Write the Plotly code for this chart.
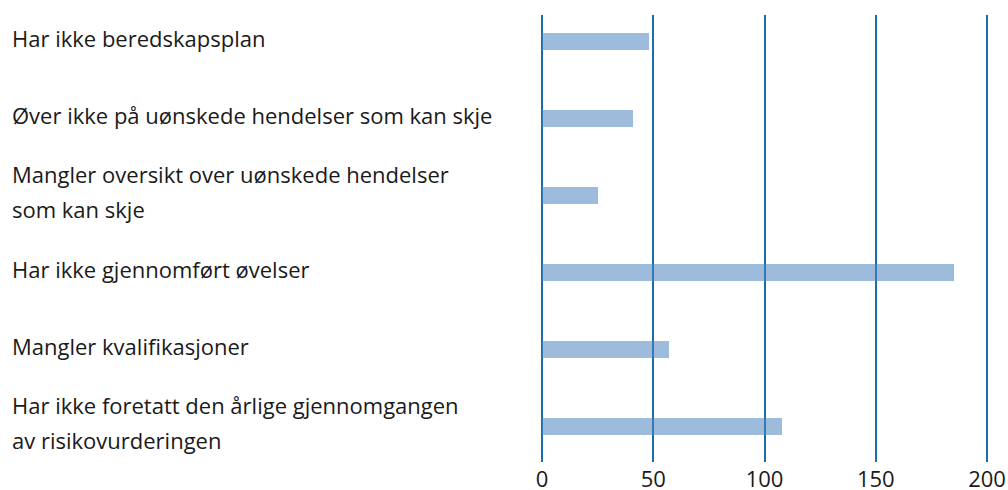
import plotly.graph_objects as go

categories = [
    "Har ikke beredskapsplan",
    "Øver ikke på uønskede hendelser som kan skje",
    "Mangler oversikt over uønskede hendelser<br>som kan skje",
    "Har ikke gjennomført øvelser",
    "Mangler kvalifikasjoner",
    "Har ikke foretatt den årlige gjennomgangen<br>av risikovurderingen",
]
values = [48, 41, 25, 185, 57, 108]
tick_values = [0, 50, 100, 150, 200]
tick_labels = ["0", "50", "100", "150", "200"]

W, H = 1008, 490
ML, MR, MT, MB = 540, 0, 15, 28
FONT = "Open Sans"
FS = 22
PX_PER_UNIT = 445 / 200
X_MIN = -(542 - ML) / PX_PER_UNIT          # small pad so the 0 gridline is drawn
X_MAX = X_MIN + (W - ML - MR) / PX_PER_UNIT

# translucent bar so the gridlines show through it (looks like #9dbbdb on white)
fig = go.Figure(go.Bar(
    x=values, y=list(range(len(categories))), orientation="h",
    marker=dict(color="rgba(77,131,190,0.55)", line=dict(width=0)),
    width=0.22, hoverinfo="x",
))

annotations = []
plot_w = W - ML - MR
for i, cat in enumerate(categories):
    lines = cat.split("<br>")
    n = len(lines)
    for j, line in enumerate(lines):
        annotations.append(dict(
            x=(10 - ML) / plot_w, xref="paper", xanchor="left",
            y=i, yref="y", yanchor="middle",
            yshift=(-(j - (n - 1) / 2) * 35) + 4,
            text=line, showarrow=False, align="left",
            font=dict(family=FONT, size=FS, color="#1a1a1a"),
        ))

fig.update_layout(
    width=W, height=H,
    margin=dict(l=ML, r=MR, t=MT, b=MB, autoexpand=False),
    paper_bgcolor="white", plot_bgcolor="white",
    showlegend=False, bargap=0,
    annotations=annotations,
    xaxis=dict(
        range=[X_MIN, X_MAX], tickvals=tick_values, ticktext=tick_labels,
        showgrid=True, gridcolor="#1c6ea8", gridwidth=2, zeroline=False,
        showline=False, ticks="", ticklabelstandoff=2,
        tickfont=dict(family=FONT, size=FS, color="#1a1a1a"),
    ),
    yaxis=dict(
        range=[5.455, -0.35], showticklabels=False, showgrid=False,
        zeroline=False, showline=False, ticks="",
    ),
)

# the page is exactly the figure's size: drop the browser's default 8px body margin
fig.write_html(
    "out.html",
    config={"displayModeBar": False},
    post_script="document.body.style.margin='0px';",
)
